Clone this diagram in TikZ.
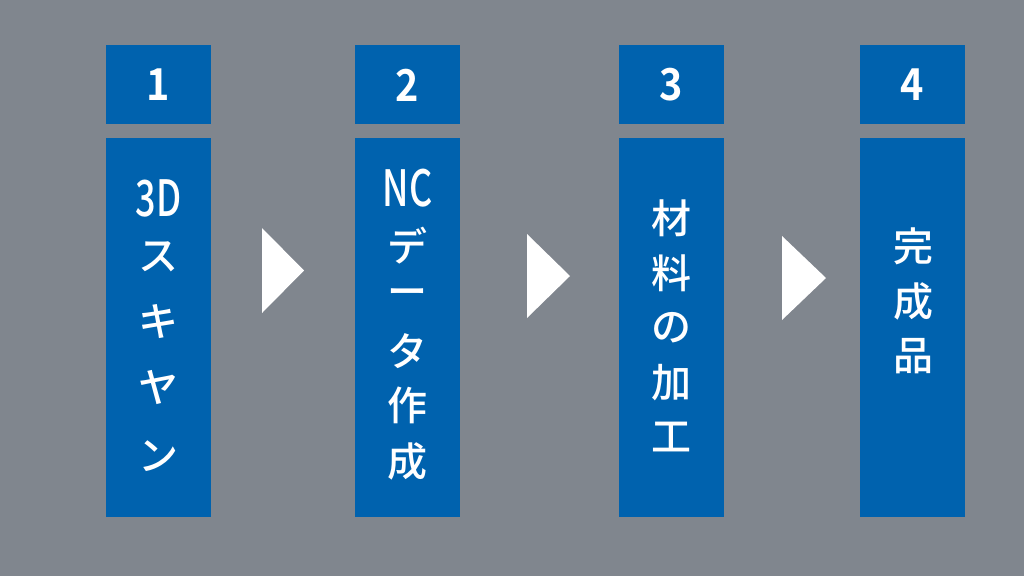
\documentclass[tikz,border=0pt]{standalone}
\usepackage{fontspec}
\setmainfont{Noto Sans CJK JP}[BoldFont={* Bold}]
\newfontfamily\cjkb{Noto Sans CJK JP Bold}
\newfontfamily\cjkm{Noto Sans CJK JP Medium}
\definecolor{bg}{HTML}{80868E}
\definecolor{blu}{HTML}{0062AE}
\begin{document}
\begin{tikzpicture}[x=1pt,y=-1pt,
  box/.style={fill=blu,draw=none},
  num/.style={text=white,font=\cjkb\fontsize{44}{44}\selectfont,anchor=center,xscale=0.9},
  ch/.style={text=white,font=\cjkm\fontsize{40}{40}\selectfont,anchor=center},
  lat/.style={text=white,font=\cjkm\fontsize{50}{50}\selectfont,anchor=center,xscale=0.72},
  tri/.style={fill=white,draw=none}]
\fill[bg] (0,0) rectangle (1024,576);
\useasboundingbox (0,0) rectangle (1024,576);
\foreach \x/\n in {106/1,355/2,619/3,860/4}{
  \fill[box] (\x,45) rectangle ++(105,79);
  \fill[box] (\x,138) rectangle ++(105,379);
  \node[num] (n\n) at (\x+52.5,85) {\n};
}
\fill[tri] (262,228) -- (304,270.5) -- (262,313) -- cycle;
\fill[tri] (527,234) -- (570,276) -- (527,318) -- cycle;
\fill[tri] (782,236) -- (826,278) -- (782,320) -- cycle;
\node[lat] at (158.5,198) {3D};
\foreach \t/\y in {ス/257,キ/322,ヤ/387,ン/456}{\node[ch] at (158.5,\y) {\t};}
\node[lat] at (407.5,188) {NC};
\foreach \t/\y in {デ/246,ー/298,タ/351,作/405,成/461}{\node[ch] at (407.5,\y) {\t};}
\foreach \t/\y in {材/218,料/273,の/328,加/383,工/437}{\node[ch] at (671.5,\y) {\t};}
\foreach \t/\y in {完/246,成/301,品/356}{\node[ch] at (913,\y) {\t};}
\end{tikzpicture}
\end{document}
